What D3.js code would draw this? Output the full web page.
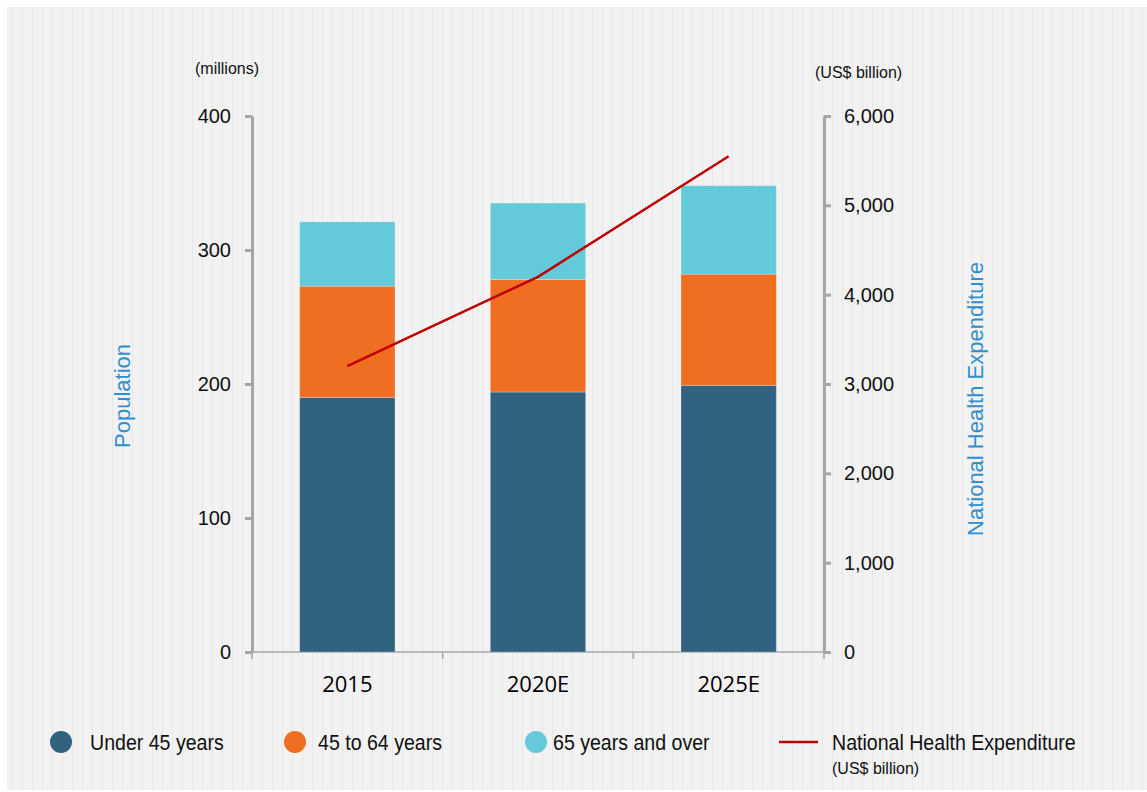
<!DOCTYPE html>
<html>
<head>
<meta charset="utf-8">
<script src="https://cdn.jsdelivr.net/npm/d3@7"></script>
<style>
    body { margin: 0; background: #fff; }
    svg { display: block; }
</style>
</head>
<body>
<div id="chart"></div>
<script>
const years = ['2015', '2020E', '2025E'];
const under45 = [190, 194, 199];
const age45to64 = [83, 84, 83];
const age65plus = [48, 57, 66];
const healthSpend = [3200, 4200, 5550];
const popTicks = [0, 100, 200, 300, 400];
const spendTicks = [0, 1000, 2000, 3000, 4000, 5000, 6000];

const seriesNames = ['Under 45 years', '45 to 64 years', '65 years and over'];
const seriesColors = ['#31627f', '#f06e22', '#64c9d8'];
const lineName = 'National Health Expenditure';
const lineColor = '#c00000';

const narrow = '"Liberation Sans Narrow", "Arial Narrow", "Liberation Sans", sans-serif';
// no condensed face installed, so squeeze legend text a bit
const squeeze = 0.89;

const drawChart = function() {
    const width = 1147;
    const height = 792;
    const marginTop = 116;
    const marginBottom = 140;
    const marginLeft = 252;
    const marginRight = 323;

    const svg = d3.create('svg')
        .attr('width', width)
        .attr('height', height)
        .attr('viewBox', [0, 0, width, height]);

    // striped panel background
    const defs = svg.append('defs');
    const pat = defs.append('pattern')
        .attr('id', 'stripes')
        .attr('patternUnits', 'userSpaceOnUse')
        .attr('width', 10)
        .attr('height', 4);
    pat.append('rect').attr('width', 10).attr('height', 4).attr('fill', '#f2f2f2');
    pat.append('rect').attr('x', 2).attr('width', 1).attr('height', 4).attr('fill', '#e7e7e7');

    svg.append('rect')
        .attr('x', 7).attr('y', 7)
        .attr('width', width - 7).attr('height', height - 9)
        .attr('fill', 'url(#stripes)');

    const x = d3.scaleBand()
        .domain(years)
        .range([marginLeft, width - marginRight])
        .paddingInner(0.5)
        .paddingOuter(0.25);

    const y = d3.scaleLinear()
        .domain([0, 400])
        .range([height - marginBottom, marginTop]);

    const y2 = d3.scaleLinear()
        .domain([0, 6000])
        .range([height - marginBottom, marginTop]);

    const stackData = years.map((yr, i) => ({
        year: yr, s0: under45[i], s1: age45to64[i], s2: age65plus[i]
    }));
    const stacked = d3.stack().keys(['s0', 's1', 's2'])(stackData);

    // bottom axis line with boundary ticks
    const step = x.step();
    const bounds = d3.range(years.length + 1).map(i => marginLeft + i * step);
    const xAxis = svg.append('g');
    xAxis.append('line')
        .attr('x1', marginLeft).attr('x2', width - marginRight)
        .attr('y1', y(0)).attr('y2', y(0))
        .attr('stroke', '#a6a6a6').attr('stroke-width', 1.5);
    xAxis.selectAll('.bt')
        .data(bounds)
        .join('line')
        .attr('x1', d => d).attr('x2', d => d)
        .attr('y1', y(0)).attr('y2', y(0) + 7)
        .attr('stroke', '#a6a6a6').attr('stroke-width', 1.5);

    svg.append('g')
        .selectAll('g')
        .data(stacked)
        .join('g')
        .attr('fill', (d, i) => seriesColors[i])
        .selectAll('rect')
        .data(d => d)
        .join('rect')
        .attr('x', d => x(d.data.year))
        .attr('y', d => y(d[1]))
        .attr('height', d => y(d[0]) - y(d[1]))
        .attr('width', x.bandwidth())
        .attr('stroke', '#ffffff')
        .attr('stroke-opacity', 0.25)
        .attr('stroke-width', 1);

    // category labels
    svg.append('g')
        .selectAll('text')
        .data(years)
        .join('text')
        .attr('x', d => x(d) + x.bandwidth() / 2)
        .attr('y', y(0) + 40)
        .attr('text-anchor', 'middle')
        .attr('font-family', '"Open Sans", sans-serif')
        .attr('font-size', 22)
        .attr('fill', '#000')
        .text(d => d);

    // left axis
    svg.append('g')
        .attr('transform', `translate(${marginLeft},0)`)
        .call(d3.axisLeft(y).tickValues(popTicks).tickSize(7).tickPadding(14).tickSizeOuter(0))
        .call(g => g.select('.domain').attr('stroke', '#a6a6a6').attr('stroke-width', 3))
        .call(g => g.selectAll('.tick line').attr('stroke', '#a6a6a6').attr('stroke-width', 3))
        .call(g => g.selectAll('.tick text')
            .attr('font-family', narrow)
            .attr('font-size', 20)
            .attr('fill', '#111'));

    // right axis
    svg.append('g')
        .attr('transform', `translate(${width - marginRight},0)`)
        .call(d3.axisRight(y2).tickValues(spendTicks).tickSize(7).tickPadding(13).tickSizeOuter(0)
            .tickFormat(d3.format(',')))
        .call(g => g.select('.domain').attr('stroke', '#a6a6a6').attr('stroke-width', 3))
        .call(g => g.selectAll('.tick line').attr('stroke', '#a6a6a6').attr('stroke-width', 3))
        .call(g => g.selectAll('.tick text')
            .attr('font-family', narrow)
            .attr('font-size', 20)
            .attr('fill', '#111'));

    // expenditure line
    const line = d3.line()
        .x((d, i) => x(years[i]) + x.bandwidth() / 2)
        .y(d => y2(d));
    svg.append('path')
        .datum(healthSpend)
        .attr('fill', 'none')
        .attr('stroke', lineColor)
        .attr('stroke-width', 2.5)
        .attr('d', line);

    // unit labels
    svg.append('text')
        .attr('x', 195).attr('y', 74)
        .attr('font-family', narrow).attr('font-size', 16).attr('fill', '#111')
        .text('(millions)');
    svg.append('text')
        .attr('x', 815).attr('y', 78)
        .attr('font-family', narrow).attr('font-size', 16).attr('fill', '#111')
        .text('(US$ billion)');

    // axis titles
    svg.append('text')
        .attr('transform', 'translate(130,396) rotate(-90)')
        .attr('text-anchor', 'middle')
        .attr('font-family', '"Liberation Sans", Arial, sans-serif')
        .attr('font-size', 22)
        .attr('fill', '#2f8fd0')
        .text('Population');
    svg.append('text')
        .attr('transform', 'translate(983,399) rotate(-90)')
        .attr('text-anchor', 'middle')
        .attr('font-family', '"Liberation Sans", Arial, sans-serif')
        .attr('font-size', 22)
        .attr('fill', '#2f8fd0')
        .text('National Health Expenditure');

    // legend
    const legendX = [61, 295, 536];
    const legendTextX = [29, 23, 17];
    const legend = svg.append('g')
        .selectAll('g')
        .data(seriesNames)
        .join('g')
        .attr('transform', (d, i) => `translate(${legendX[i]},742)`);
    legend.append('circle')
        .attr('r', 11)
        .attr('fill', (d, i) => seriesColors[i]);
    legend.append('text')
        .attr('transform', (d, i) => `translate(${legendTextX[i]},8) scale(${squeeze},1)`)
        .attr('font-family', narrow)
        .attr('font-size', 22)
        .attr('fill', '#111')
        .text(d => d);

    const lineLegend = svg.append('g').attr('transform', 'translate(779,742)');
    lineLegend.append('line')
        .attr('x1', 0).attr('x2', 39)
        .attr('stroke', lineColor).attr('stroke-width', 2.5);
    lineLegend.append('text')
        .attr('transform', `translate(53,8) scale(${squeeze},1)`)
        .attr('font-family', narrow).attr('font-size', 22).attr('fill', '#111')
        .text(lineName);
    lineLegend.append('text')
        .attr('x', 53).attr('y', 32)
        .attr('font-family', narrow).attr('font-size', 16).attr('fill', '#111')
        .text('(US$ billion)');

    chart.append(svg.node());
};

drawChart();
</script>
</body>
</html>
